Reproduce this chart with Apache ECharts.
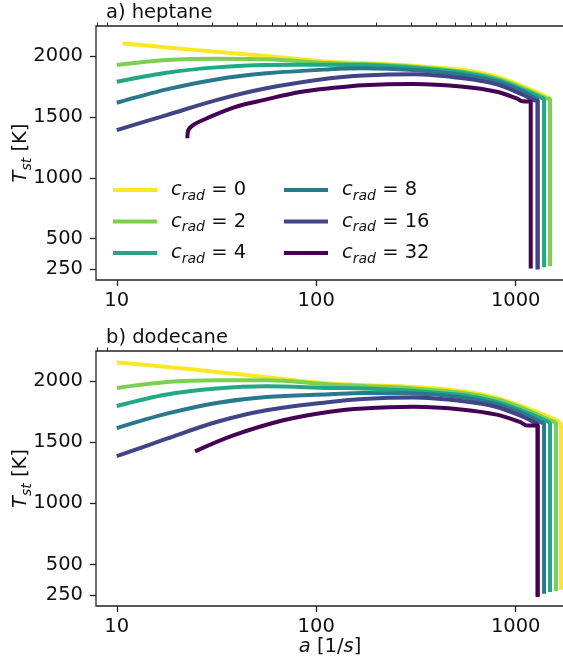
<!DOCTYPE html>
<html>
<head>
<meta charset="utf-8">
<script src="https://cdn.jsdelivr.net/npm/echarts@6/dist/echarts.min.js"></script>
<style>
  html, body { margin: 0; padding: 0; background: #fff; }
  #chart { width: 563px; height: 659px; }
</style>
</head>
<body>
<div id="chart"></div>
<script>
// radiation coefficients and their viridis colours
const cradValues = [0, 2, 4, 8, 16, 32];
const colors = ['#fde725', '#7ad151', '#22a884', '#2a788e', '#414487', '#440154'];

// a) heptane : [strain rate a (1/s), T_st (K)]
const heptane0 = [[10.7, 2104], [17.8, 2071], [31.6, 2035], [56.2, 2000], [117, 1953], [172, 1942], [307, 1920], [546, 1885], [803, 1830], [1093, 1748], [1370, 1680], [1480, 1655]];
const heptane2 = [[10, 1926], [17.8, 1967], [31.6, 1978], [56.2, 1973], [117, 1942], [172, 1934], [307, 1912], [546, 1871], [803, 1817], [1093, 1735], [1429, 1652], [1486, 1645], [1486, 274]];
const heptane4 = [[10, 1789], [17.8, 1863], [31.6, 1907], [56.2, 1926], [117, 1928], [172, 1926], [307, 1904], [546, 1863], [803, 1803], [1093, 1721], [1370, 1652], [1387, 1640], [1387, 264]];
const heptane8 = [[10, 1616], [17.8, 1726], [31.6, 1808], [56.2, 1858], [117, 1891], [172, 1899], [307, 1885], [546, 1844], [803, 1789], [1093, 1707], [1250, 1655], [1288, 1640], [1288, 250]];
const heptane16 = [[10, 1392], [17.8, 1515], [31.6, 1638], [56.2, 1735], [117, 1817], [172, 1840], [307, 1850], [546, 1817], [803, 1767], [1093, 1680], [1223, 1638], [1288, 1630], [1288, 247]];
const heptane32 = [[22.6, 1325], [22.9, 1395], [24.5, 1440], [28, 1485], [38.4, 1577], [55, 1640], [83, 1704], [117, 1735], [172, 1760], [307, 1770], [546, 1748], [803, 1707], [1012, 1652], [1080, 1628], [1189, 1625], [1189, 255]];

// b) dodecane
const dodecane0 = [[10, 2153], [17.8, 2117], [31.6, 2076], [56.2, 2033], [117, 1981], [172, 1968], [307, 1953], [546, 1918], [803, 1863], [1093, 1789], [1535, 1693], [1687, 1640], [1687, 293]];
const dodecane2 = [[10, 1945], [17.8, 1994], [31.6, 2008], [56.2, 2008], [117, 1973], [172, 1961], [307, 1940], [546, 1904], [803, 1850], [1093, 1776], [1486, 1680], [1592, 1650], [1592, 282]];
const dodecane4 = [[10, 1797], [17.8, 1891], [31.6, 1940], [56.2, 1959], [117, 1945], [172, 1940], [307, 1920], [546, 1885], [803, 1830], [1093, 1753], [1399, 1680], [1486, 1650], [1486, 274]];
const dodecane8 = [[10, 1616], [17.8, 1734], [31.6, 1822], [56.2, 1871], [117, 1893], [172, 1903], [307, 1899], [546, 1866], [803, 1811], [1093, 1734], [1325, 1666], [1387, 1648], [1387, 260]];
const dodecane16 = [[10, 1386], [17.8, 1529], [31.6, 1666], [56.2, 1762], [117, 1830], [172, 1855], [307, 1866], [546, 1836], [803, 1789], [1093, 1707], [1250, 1660], [1288, 1645], [1288, 240]];
const dodecane32 = [[24.7, 1425], [38.4, 1556], [68.4, 1680], [117, 1750], [172, 1777], [307, 1790], [546, 1767], [803, 1726], [1050, 1666], [1134, 1638], [1288, 1636], [1288, 233]];

const heptane = [heptane0, heptane2, heptane4, heptane8, heptane16, heptane32];
const dodecane = [dodecane0, dodecane2, dodecane4, dodecane8, dodecane16, dodecane32];

// ticks
const yTicks = [250, 500, 1000, 1500, 2000];
const xMajor = [10, 100, 1000];
const xMinor = [8, 9, 20, 30, 40, 50, 60, 70, 80, 90, 200, 300, 400, 500, 600, 700, 800, 900];

const FONT = 'DejaVu Sans';
const FS = 19.5;
const INK = '#111';
const xMin = 7.87, xMax = 1746;
const yMin = 160, yMax = 2247;

const richText = {
  i: { fontFamily: FONT, fontStyle: 'italic', fontSize: FS, lineHeight: 26, color: INK },
  s: { fontFamily: FONT, fontStyle: 'italic', fontSize: 14, lineHeight: 18, verticalAlign: 'bottom', color: INK },
  n: { fontFamily: FONT, fontSize: FS, lineHeight: 26, color: INK },
  sp: { width: 9, lineHeight: 26 }
};

const grids = [
  { left: 96, top: 26, width: 468, height: 254, show: true, borderColor: '#222', borderWidth: 1.3, containLabel: false, outerBoundsMode: 'none' },
  { left: 96, top: 351, width: 468, height: 255, show: true, borderColor: '#222', borderWidth: 1.3, containLabel: false, outerBoundsMode: 'none' }
];

const xAxes = [];
const yAxes = [];
[0, 1].forEach(function (g) {
  xAxes.push({
    type: 'log', gridIndex: g, min: xMin, max: xMax,
    axisLine: { show: false },
    splitLine: { show: false },
    axisTick: { customValues: xMajor, length: 6, lineStyle: { color: '#222', width: 1.3 } },
    axisLabel: {
      customValues: xMajor, fontSize: FS, fontFamily: FONT, color: INK, margin: 11,
      formatter: function (v) { return String(Math.round(v)); }
    },
    name: g === 1 ? '{i|a}{n| [1/}{i|s}{n|]}' : '',
    nameLocation: 'middle', nameGap: 28, nameMoveOverlap: false,
    nameTextStyle: { rich: richText }
  });
  xAxes.push({
    type: 'log', gridIndex: g, min: xMin, max: xMax,
    axisLine: { show: false },
    splitLine: { show: false },
    axisTick: { customValues: xMinor, length: 3.5, lineStyle: { color: '#222', width: 1 } },
    axisLabel: { show: false }
  });
  yAxes.push({
    type: 'value', gridIndex: g, min: yMin, max: yMax,
    axisLine: { show: false },
    splitLine: { show: false },
    axisTick: { customValues: yTicks, length: 6, lineStyle: { color: '#222', width: 1.3 } },
    axisLabel: {
      customValues: yTicks, fontSize: FS, fontFamily: FONT, color: INK, margin: 13,
      formatter: function (v) { return String(v); }
    },
    name: '{i|T}{s|st}{n| [K]}',
    nameLocation: 'middle', nameGap: 62, nameRotate: 90, nameMoveOverlap: false,
    nameTextStyle: { rich: richText }
  });
});

function legendName(c) { return 'c_rad = ' + c; }

const series = [];
[heptane, dodecane].forEach(function (set, g) {
  set.forEach(function (pts, k) {
    series.push({
      type: 'line', name: legendName(cradValues[k]),
      xAxisIndex: g * 2, yAxisIndex: g,
      data: pts, symbol: 'none', showSymbol: false,
      color: colors[k],
      lineStyle: { width: 4, color: colors[k], join: 'round', cap: 'butt' },
      emphasis: { disabled: true },
      smooth: 0.35
    });
  });
});

function legendFormatter(name) {
  return '{sp| }{i|c}{s|rad}{n| = ' + name.split('= ')[1] + '}';
}

const legendBase = {
  orient: 'vertical', top: 180, padding: 0, itemGap: 8.5,
  itemWidth: 44, itemHeight: 4, icon: 'rect',
  formatter: legendFormatter,
  textStyle: { rich: richText },
  selectedMode: false
};

const option = {
  animation: false,
  backgroundColor: '#fff',
  textStyle: { fontFamily: FONT },
  title: [
    { text: 'a) heptane', left: 106, top: 3, padding: 0, textStyle: { fontFamily: FONT, fontSize: FS, fontWeight: 'normal', color: INK } },
    { text: 'b) dodecane', left: 106, top: 328, padding: 0, textStyle: { fontFamily: FONT, fontSize: FS, fontWeight: 'normal', color: INK } }
  ],
  legend: [
    Object.assign({}, legendBase, { left: 113, data: [0, 2, 4].map(legendName) }),
    Object.assign({}, legendBase, { left: 284, data: [8, 16, 32].map(legendName) })
  ],
  grid: grids,
  xAxis: xAxes,
  yAxis: yAxes,
  series: series
};

const chart = echarts.init(document.getElementById('chart'), null, { renderer: 'canvas' });
chart.setOption(option);
</script>
</body>
</html>
